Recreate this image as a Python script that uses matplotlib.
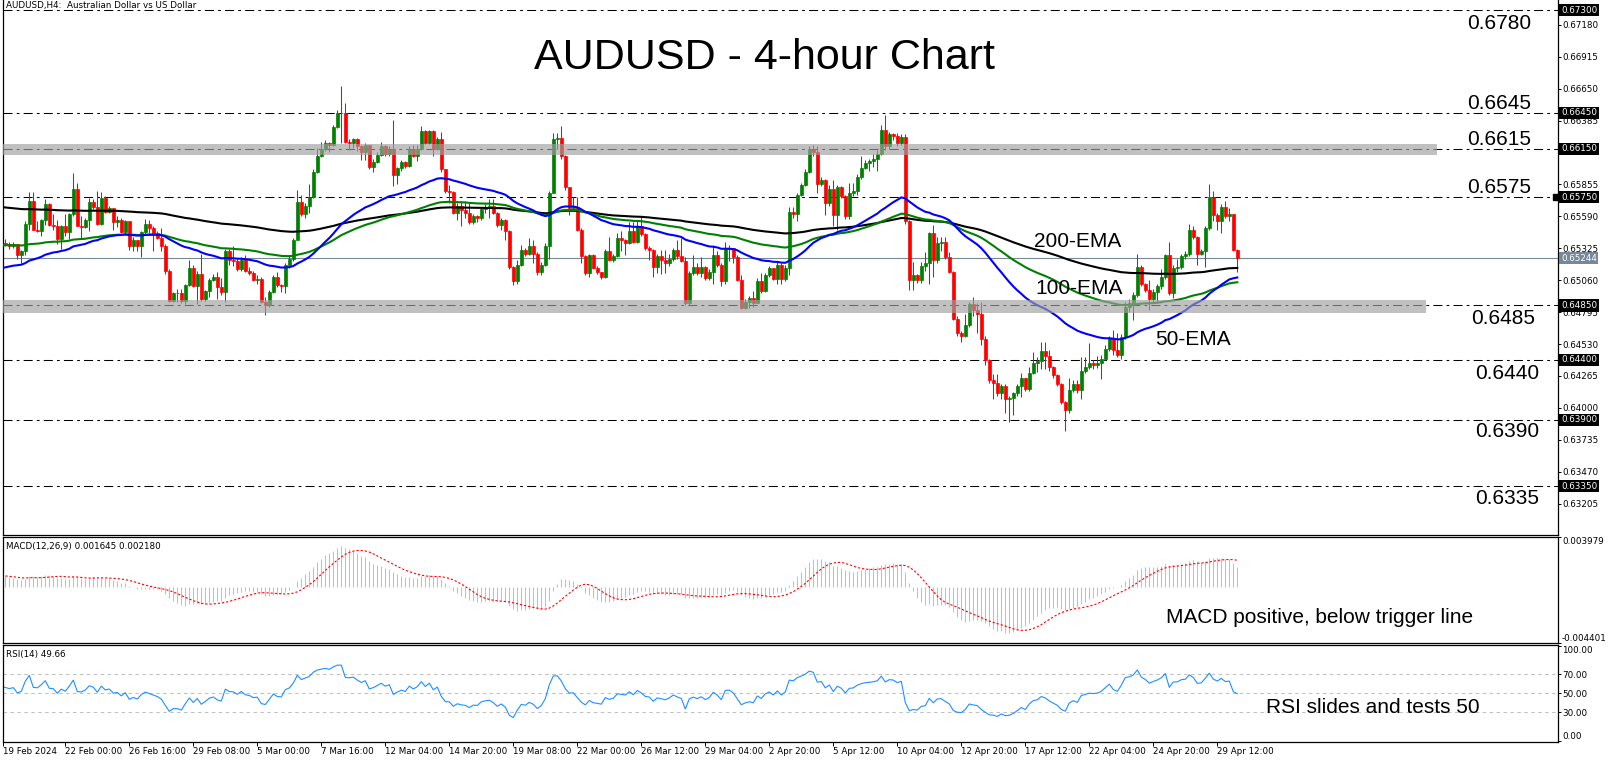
import numpy as np
import pandas as pd
import matplotlib
matplotlib.use('Agg')
import matplotlib.pyplot as plt
import matplotlib.transforms as mtransforms

plt.rcParams['lines.scale_dashes'] = False

# 4-hour bars (open = previous close)
first_open = 0.6540
close = [
    0.6537, 0.6536, 0.6534, 0.6536, 0.6527, 0.6530, 0.6553, 0.6572, 0.6548, 0.6547,
    0.6556, 0.6569, 0.6552, 0.6551, 0.6540, 0.6551, 0.6546, 0.6561, 0.6582, 0.6551,
    0.6550, 0.6556, 0.6571, 0.6567, 0.6553, 0.6574, 0.6563, 0.6566, 0.6554, 0.6556,
    0.6546, 0.6555, 0.6534, 0.6539, 0.6534, 0.6546, 0.6553, 0.6549, 0.6545, 0.6541,
    0.6534, 0.6514, 0.6489, 0.6495, 0.6495, 0.6489, 0.6502, 0.6516, 0.6501, 0.6511,
    0.6490, 0.6497, 0.6506, 0.6509, 0.6500, 0.6496, 0.6530, 0.6523, 0.6522, 0.6515,
    0.6523, 0.6514, 0.6512, 0.6506, 0.6507, 0.6488, 0.6485, 0.6496, 0.6509, 0.6502,
    0.6501, 0.6519, 0.6524, 0.6539, 0.6571, 0.6561, 0.6568, 0.6575, 0.6596, 0.6609,
    0.6615, 0.6620, 0.6618, 0.6633, 0.6645, 0.6645, 0.6621, 0.6620, 0.6623, 0.6617,
    0.6612, 0.6618, 0.6600, 0.6604, 0.6610, 0.6617, 0.6611, 0.6615, 0.6593, 0.6599,
    0.6604, 0.6601, 0.6615, 0.6609, 0.6615, 0.6630, 0.6620, 0.6630, 0.6615, 0.6623,
    0.6598, 0.6580, 0.6579, 0.6562, 0.6568, 0.6564, 0.6562, 0.6554, 0.6559, 0.6558,
    0.6565, 0.6567, 0.6568, 0.6562, 0.6552, 0.6556, 0.6547, 0.6517, 0.6505, 0.6519,
    0.6531, 0.6528, 0.6534, 0.6528, 0.6513, 0.6519, 0.6534, 0.6578, 0.6623, 0.6624,
    0.6609, 0.6583, 0.6566, 0.6567, 0.6548, 0.6526, 0.6512, 0.6527, 0.6516, 0.6513,
    0.6509, 0.6530, 0.6523, 0.6526, 0.6541, 0.6539, 0.6537, 0.6547, 0.6538, 0.6551,
    0.6544, 0.6533, 0.6531, 0.6517, 0.6526, 0.6523, 0.6520, 0.6524, 0.6531, 0.6526,
    0.6522, 0.6487, 0.6512, 0.6517, 0.6512, 0.6517, 0.6508, 0.6513, 0.6527, 0.6519,
    0.6505, 0.6532, 0.6533, 0.6525, 0.6506, 0.6483, 0.6488, 0.6491, 0.6487, 0.6505,
    0.6497, 0.6510, 0.6516, 0.6507, 0.6519, 0.6507, 0.6516, 0.6563, 0.6561, 0.6577,
    0.6585, 0.6596, 0.6615, 0.6612, 0.6586, 0.6589, 0.6570, 0.6582, 0.6560, 0.6583,
    0.6576, 0.6559, 0.6578, 0.6580, 0.6592, 0.6599, 0.6603, 0.6605, 0.6607, 0.6611,
    0.6631, 0.6617, 0.6627, 0.6626, 0.6620, 0.6625, 0.6555, 0.6506, 0.6510, 0.6506,
    0.6518, 0.6520, 0.6545, 0.6523, 0.6537, 0.6538, 0.6525, 0.6513, 0.6474, 0.6462,
    0.6460, 0.6469, 0.6486, 0.6481, 0.6478, 0.6457, 0.6440, 0.6423, 0.6421, 0.6412,
    0.6418, 0.6407, 0.6408, 0.6412, 0.6418, 0.6425, 0.6416, 0.6429, 0.6437, 0.6439,
    0.6447, 0.6443, 0.6434, 0.6427, 0.6420, 0.6405, 0.6398, 0.6415, 0.6420, 0.6415,
    0.6431, 0.6434, 0.6437, 0.6436, 0.6437, 0.6441, 0.6449, 0.6458, 0.6448, 0.6444,
    0.6459, 0.6484, 0.6487, 0.6494, 0.6517, 0.6503, 0.6498, 0.6490, 0.6496, 0.6501,
    0.6509, 0.6527, 0.6495, 0.6516, 0.6517, 0.6526, 0.6528, 0.6548, 0.6542, 0.6528,
    0.6530, 0.6549, 0.6575, 0.6560, 0.6555, 0.6567, 0.6559, 0.6561, 0.6531, 0.65244,
]
high = [
    0.6542, 0.6540, 0.6538, 0.6538, 0.6535, 0.6531, 0.6555, 0.6579, 0.6579, 0.6555,
    0.6557, 0.6573, 0.6570, 0.6561, 0.6556, 0.6552, 0.6561, 0.6562, 0.6595, 0.6587,
    0.6559, 0.6558, 0.6574, 0.6573, 0.6580, 0.6579, 0.6576, 0.6568, 0.6565, 0.6559,
    0.6558, 0.6556, 0.6548, 0.6542, 0.6538, 0.6547, 0.6557, 0.6556, 0.6551, 0.6547,
    0.6549, 0.6536, 0.6515, 0.6496, 0.6499, 0.6499, 0.6503, 0.6523, 0.6519, 0.6514,
    0.6528, 0.6498, 0.6508, 0.6511, 0.6513, 0.6508, 0.6532, 0.6532, 0.6534, 0.6524,
    0.6525, 0.6527, 0.6517, 0.6514, 0.6510, 0.6509, 0.6492, 0.6498, 0.6510, 0.6513,
    0.6503, 0.6520, 0.6526, 0.6541, 0.6581, 0.6577, 0.6570, 0.6586, 0.6598, 0.6616,
    0.6621, 0.6622, 0.6621, 0.6635, 0.6647, 0.6667, 0.6653, 0.6623, 0.6624, 0.6624,
    0.6618, 0.6620, 0.6618, 0.6607, 0.6612, 0.6621, 0.6618, 0.6617, 0.6639, 0.6600,
    0.6606, 0.6605, 0.6617, 0.6618, 0.6618, 0.6634, 0.6631, 0.6631, 0.6631, 0.6625,
    0.6629, 0.6598, 0.6585, 0.6580, 0.6570, 0.6572, 0.6572, 0.6570, 0.6561, 0.6560,
    0.6567, 0.6569, 0.6573, 0.6573, 0.6563, 0.6558, 0.6557, 0.6548, 0.6518, 0.6523,
    0.6535, 0.6533, 0.6541, 0.6539, 0.6529, 0.6521, 0.6537, 0.6580, 0.6628, 0.6628,
    0.6634, 0.6610, 0.6582, 0.6575, 0.6575, 0.6549, 0.6527, 0.6528, 0.6528, 0.6518,
    0.6513, 0.6532, 0.6542, 0.6528, 0.6545, 0.6547, 0.6540, 0.6554, 0.6554, 0.6555,
    0.6559, 0.6545, 0.6534, 0.6532, 0.6528, 0.6531, 0.6531, 0.6528, 0.6533, 0.6539,
    0.6541, 0.6525, 0.6514, 0.6527, 0.6520, 0.6525, 0.6518, 0.6515, 0.6535, 0.6530,
    0.6520, 0.6538, 0.6535, 0.6532, 0.6527, 0.6510, 0.6490, 0.6493, 0.6497, 0.6508,
    0.6512, 0.6512, 0.6518, 0.6513, 0.6522, 0.6520, 0.6519, 0.6567, 0.6567, 0.6578,
    0.6587, 0.6598, 0.6617, 0.6618, 0.6617, 0.6592, 0.6590, 0.6585, 0.6589, 0.6585,
    0.6584, 0.6577, 0.6587, 0.6587, 0.6594, 0.6609, 0.6606, 0.6607, 0.6611, 0.6614,
    0.6635, 0.6643, 0.6629, 0.6628, 0.6628, 0.6627, 0.6627, 0.6556, 0.6521, 0.6511,
    0.6521, 0.6529, 0.6546, 0.6552, 0.6542, 0.6542, 0.6542, 0.6529, 0.6514, 0.6476,
    0.6464, 0.6478, 0.6488, 0.6492, 0.6487, 0.6488, 0.6460, 0.6441, 0.6428, 0.6428,
    0.6420, 0.6420, 0.6410, 0.6413, 0.6420, 0.6429, 0.6425, 0.6434, 0.6446, 0.6442,
    0.6455, 0.6455, 0.6448, 0.6435, 0.6428, 0.6421, 0.6406, 0.6425, 0.6423, 0.6423,
    0.6442, 0.6442, 0.6454, 0.6440, 0.6443, 0.6444, 0.6452, 0.6460, 0.6465, 0.6462,
    0.6461, 0.6488, 0.6490, 0.6496, 0.6528, 0.6519, 0.6504, 0.6506, 0.6499, 0.6503,
    0.6515, 0.6528, 0.6538, 0.6519, 0.6524, 0.6528, 0.6530, 0.6553, 0.6551, 0.6543,
    0.6532, 0.6551, 0.6586, 0.6580, 0.6562, 0.6569, 0.6572, 0.6566, 0.6561, 0.6532,
]
low = [
    0.6535, 0.6534, 0.6532, 0.6533, 0.6524, 0.6520, 0.6527, 0.6548, 0.6548, 0.6546,
    0.6543, 0.6552, 0.6551, 0.6548, 0.6536, 0.6532, 0.6543, 0.6540, 0.6559, 0.6551,
    0.6540, 0.6549, 0.6547, 0.6565, 0.6552, 0.6552, 0.6562, 0.6562, 0.6548, 0.6550,
    0.6545, 0.6544, 0.6531, 0.6530, 0.6530, 0.6525, 0.6544, 0.6545, 0.6530, 0.6540,
    0.6530, 0.6511, 0.6488, 0.6488, 0.6488, 0.6487, 0.6486, 0.6501, 0.6500, 0.6486,
    0.6489, 0.6489, 0.6492, 0.6505, 0.6490, 0.6494, 0.6488, 0.6519, 0.6518, 0.6514,
    0.6514, 0.6513, 0.6510, 0.6505, 0.6503, 0.6487, 0.6477, 0.6484, 0.6495, 0.6500,
    0.6496, 0.6495, 0.6516, 0.6522, 0.6546, 0.6559, 0.6558, 0.6562, 0.6574, 0.6595,
    0.6608, 0.6613, 0.6612, 0.6617, 0.6632, 0.6620, 0.6620, 0.6614, 0.6616, 0.6613,
    0.6606, 0.6606, 0.6598, 0.6596, 0.6603, 0.6609, 0.6609, 0.6609, 0.6584, 0.6586,
    0.6597, 0.6599, 0.6600, 0.6608, 0.6605, 0.6614, 0.6619, 0.6619, 0.6609, 0.6614,
    0.6596, 0.6578, 0.6570, 0.6561, 0.6556, 0.6551, 0.6558, 0.6553, 0.6553, 0.6554,
    0.6556, 0.6562, 0.6558, 0.6561, 0.6550, 0.6548, 0.6539, 0.6515, 0.6502, 0.6503,
    0.6518, 0.6526, 0.6527, 0.6520, 0.6510, 0.6510, 0.6518, 0.6524, 0.6578, 0.6615,
    0.6607, 0.6581, 0.6560, 0.6565, 0.6547, 0.6520, 0.6510, 0.6509, 0.6515, 0.6511,
    0.6507, 0.6508, 0.6522, 0.6521, 0.6525, 0.6530, 0.6527, 0.6536, 0.6537, 0.6537,
    0.6543, 0.6531, 0.6523, 0.6509, 0.6512, 0.6511, 0.6512, 0.6518, 0.6522, 0.6524,
    0.6521, 0.6485, 0.6485, 0.6510, 0.6510, 0.6509, 0.6506, 0.6506, 0.6503, 0.6517,
    0.6501, 0.6503, 0.6522, 0.6520, 0.6505, 0.6482, 0.6482, 0.6483, 0.6484, 0.6487,
    0.6495, 0.6496, 0.6509, 0.6506, 0.6503, 0.6503, 0.6505, 0.6510, 0.6558, 0.6555,
    0.6576, 0.6584, 0.6595, 0.6609, 0.6578, 0.6584, 0.6560, 0.6568, 0.6551, 0.6548,
    0.6574, 0.6557, 0.6557, 0.6576, 0.6577, 0.6590, 0.6598, 0.6597, 0.6600, 0.6597,
    0.6610, 0.6614, 0.6615, 0.6622, 0.6617, 0.6618, 0.6553, 0.6498, 0.6498, 0.6504,
    0.6504, 0.6514, 0.6503, 0.6509, 0.6520, 0.6530, 0.6524, 0.6512, 0.6473, 0.6460,
    0.6455, 0.6459, 0.6467, 0.6476, 0.6462, 0.6452, 0.6436, 0.6421, 0.6407, 0.6410,
    0.6407, 0.6396, 0.6388, 0.6394, 0.6410, 0.6409, 0.6414, 0.6414, 0.6428, 0.6430,
    0.6432, 0.6432, 0.6431, 0.6425, 0.6418, 0.6403, 0.6381, 0.6396, 0.6413, 0.6412,
    0.6407, 0.6429, 0.6432, 0.6432, 0.6433, 0.6424, 0.6440, 0.6447, 0.6444, 0.6442,
    0.6441, 0.6457, 0.6480, 0.6473, 0.6492, 0.6501, 0.6496, 0.6481, 0.6488, 0.6487,
    0.6499, 0.6507, 0.6494, 0.6491, 0.6513, 0.6515, 0.6524, 0.6526, 0.6540, 0.6519,
    0.6527, 0.6517, 0.6548, 0.6555, 0.6548, 0.6545, 0.6558, 0.6555, 0.6530, 0.6513,
]

# indicator values at the left edge of the chart
ema_start = {50: 0.6515, 100: 0.6535, 200: 0.6567}
macd_start = (0.6535, 0.6525)  # EMA12, EMA26
rsi_start = (0.00045, 0.00032)  # avg gain, avg loss

levels = [0.6730, 0.6645, 0.6615, 0.6575, 0.6485, 0.6440, 0.6390, 0.6335]
level_text = ['0.6780', '0.6645', '0.6615', '0.6575', '0.6485', '0.6440', '0.6390', '0.6335']
plain_ticks = [0.67180, 0.66915, 0.66650, 0.66385, 0.65855, 0.65590, 0.65325,
               0.65060, 0.64795, 0.64530, 0.64265, 0.64000, 0.63735, 0.63470, 0.63205]
last_price = 0.65244
date_labels = ['19 Feb 2024', '22 Feb 00:00', '26 Feb 16:00', '29 Feb 08:00', '5 Mar 00:00',
               '7 Mar 16:00', '12 Mar 04:00', '14 Mar 20:00', '19 Mar 08:00', '22 Mar 00:00',
               '26 Mar 12:00', '29 Mar 04:00', '2 Apr 20:00', '5 Apr 12:00', '10 Apr 04:00',
               '12 Apr 20:00', '17 Apr 12:00', '22 Apr 04:00', '24 Apr 20:00', '29 Apr 12:00']

c = np.array(close)
o = np.concatenate([[first_open], c[:-1]])
h = np.array(high)
l = np.array(low)
x = np.arange(len(c))


def ema(vals, period, start):
    a = 2.0 / (period + 1)
    out, e = [], start
    for v in vals:
        e = e + a * (v - e)
        out.append(e)
    return np.array(out)


macd = ema(c, 12, macd_start[0]) - ema(c, 26, macd_start[1])
signal = pd.Series(macd).rolling(9, min_periods=1).mean().values

d = np.diff(np.concatenate([[first_open], c]))
ag, al = rsi_start
rsi = []
for v in d:
    ag = (ag * 13 + max(v, 0)) / 14
    al = (al * 13 + max(-v, 0)) / 14
    rsi.append(100 - 100 / (1 + ag / al))
rsi = np.array(rsi)

W, H = 1610, 762
fig = plt.figure(figsize=(W / 100, H / 100), dpi=100)


def box(top, bottom, left=2.7, right=1557.5):
    return [left / W, 1 - bottom / H, (right - left) / W, (bottom - top) / H]


ax = fig.add_axes(box(0, 535))
ax_m = fig.add_axes(box(537.3, 642.7))
ax_r = fig.add_axes(box(645, 741.7))

xlim = (0.35, 389.05)
for a in (ax, ax_m, ax_r):
    a.set_xlim(*xlim)
    for s in a.spines.values():
        s.set_linewidth(0.9)
        s.set_color('black')
    a.tick_params(axis='x', bottom=False, labelbottom=False)
    a.yaxis.tick_right()
    a.tick_params(axis='y', length=2.2, width=0.7, pad=1, labelsize=6.3, labelfontfamily='DejaVu Sans')
ax.spines['top'].set_visible(False)

# ---- main price panel
ax.set_ylim(0.629451, 0.673857)
up = c >= o
col = np.where(up, '#008000', '#ff0000')
ax.vlines(x, l, h, colors=col, lw=0.75, zorder=2)
ax.bar(x, np.abs(c - o), bottom=np.minimum(o, c), width=0.62, color=col,
       edgecolor=col, linewidth=0.5, zorder=2.1)

ax.plot(x, ema(c, 200, ema_start[200]), color='black', lw=1.5, zorder=3)
ax.plot(x, ema(c, 100, ema_start[100]), color='#008000', lw=1.5, zorder=3)
ax.plot(x, ema(c, 50, ema_start[50]), color='#0000ff', lw=1.5, zorder=3)

for lv in levels:
    ax.axhline(lv, color='black', lw=0.75, ls=(0, (6.5, 3, 2, 3)), zorder=1.5)
ax.axhline(last_price, color='#778899', lw=0.8, zorder=1)

# grey zones drawn over the candles
ax.fill_between([xlim[0], (1437 - 1.3) / 4], 0.66102, 0.66190, color='#a0a0a0', alpha=0.66, lw=0, zorder=4)
ax.fill_between([xlim[0], (1426 - 1.3) / 4], 0.64790, 0.64896, color='#a0a0a0', alpha=0.66, lw=0, zorder=4)

ax.set_yticks(plain_ticks)
ax.set_yticklabels(['%.5f' % v for v in plain_ticks])
tr = mtransforms.blended_transform_factory(ax.transAxes, ax.transData)
dx = 3.5 / 1554.8
for lv in levels:
    ax.text(1 + dx, lv, '%.5f' % lv, transform=tr, fontsize=6.3, family='DejaVu Sans', color='white',
            va='center', ha='left', zorder=6, clip_on=False,
            bbox=dict(boxstyle='square,pad=0.18', fc='black', ec='none'))
ax.text(1 + dx, last_price, '%.5f' % last_price, transform=tr, fontsize=6.3, family='DejaVu Sans',
        color='white', va='center', ha='left', zorder=6, clip_on=False,
        bbox=dict(boxstyle='square,pad=0.18', fc='#778899', ec='none'))
ax.plot([1 - 2 / 1554.8], [0.6575], transform=tr, marker='s', ms=4, color='black', clip_on=False, zorder=6)

# ---- MACD panel
ax_m.set_ylim(-0.004401, 0.003979)
ax_m.vlines(x, 0, macd, colors='#c0c0c0', lw=0.75)
ax_m.plot(x, signal, color='#ff0000', lw=0.8, ls=(0, (1.6, 1.4)))
ax_m.set_yticks([0.003979, -0.004401])
ax_m.set_yticklabels(['0.003979', '-0.004401'])
lbls = ax_m.get_yticklabels()
lbls[0].set_va('top')
lbls[1].set_va('bottom')

# ---- RSI panel
ax_r.set_ylim(-0.9, 100.8)
for lv in (30, 50, 70):
    ax_r.axhline(lv, color='#c0c0c0', lw=0.75, ls=(0, (2.5, 2.5)))
ax_r.plot(x, rsi, color='#1e90ff', lw=0.8)
ax_r.set_yticks([100, 70, 50, 30, 0])
ax_r.set_yticklabels(['100.00', '70.00', '50.00', '30.00', '0.00'])
lbls = ax_r.get_yticklabels()
lbls[0].set_va('top')
lbls[-1].set_va('bottom')

xt = [xlim[0]] + [16 + 16 * m for m in range(len(date_labels) - 1)]
ax_r.set_xticks(xt)
ax_r.set_xticklabels(date_labels, ha='left', fontsize=6.3, family='DejaVu Sans')
ax_r.tick_params(axis='x', bottom=True, labelbottom=True, length=3, width=0.7, pad=0.5)


# ---- texts
def ftext(px, py, s, **kw):
    fig.text(px / W, 1 - py / H, s, **kw)


big = dict(family='Liberation Sans', fontsize=15, va='baseline', ha='left', zorder=10)
ftext(764, 69, 'AUDUSD - 4-hour Chart', family='Liberation Sans', fontsize=31, ha='center', va='baseline')
pos = [(1467, 29.4), (1467, 108.8), (1467, 144.7), (1467, 192.7),
       (1471, 323.8), (1475, 378.6), (1475, 437.4), (1475, 504.3)]
for (px, py), s in zip(pos, level_text):
    ftext(px, py, s, **big)
ftext(1034, 246.7, '200-EMA', **big)
ftext(1035, 294, '100-EMA', **big)
ftext(1155, 345, '50-EMA', **big)
ftext(1165.5, 623.3, 'MACD positive, below trigger line', **big)
ftext(1266, 713.3, 'RSI slides and tests 50', **big)

small = dict(family='DejaVu Sans', fontsize=6.3, va='center', ha='left')
ftext(6, 5.5, 'AUDUSD,H4:  Australian Dollar vs US Dollar', **small)
ftext(6, 546.7, 'MACD(12,26,9) 0.001645 0.002180', **small)
ftext(6, 654.3, 'RSI(14) 49.66', **small)

fig.savefig('out.png', dpi=100, facecolor='white')
